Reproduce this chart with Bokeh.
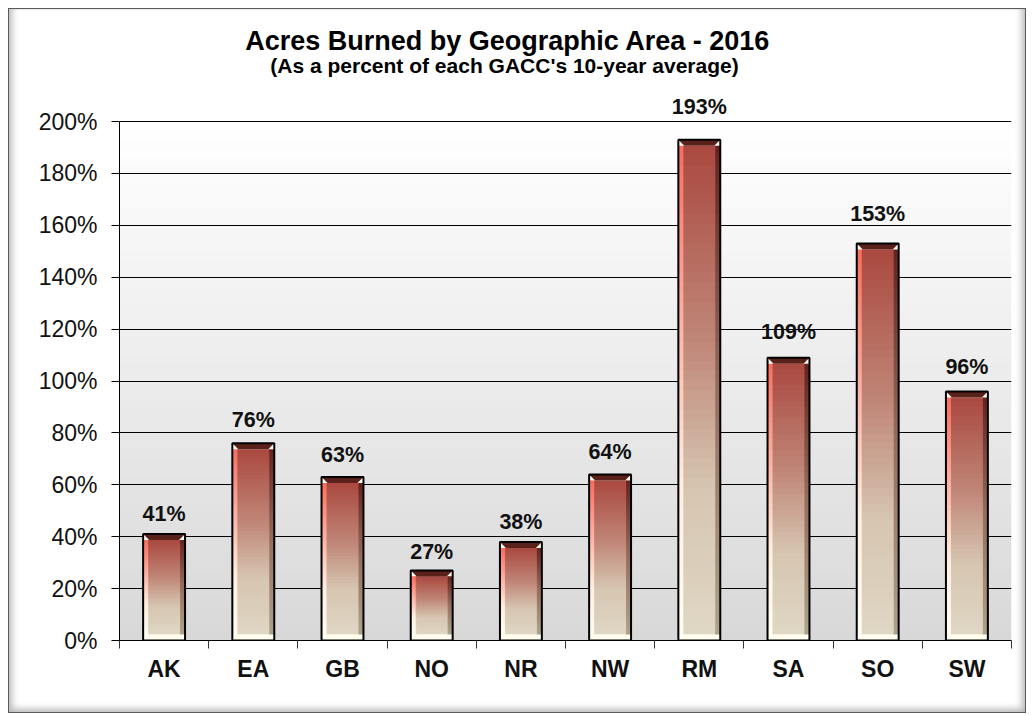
from bokeh.plotting import figure
from bokeh.models import Range1d, FixedTicker, PrintfTickFormatter
from bokeh.core.properties import value
from bokeh.embed import file_html
from bokeh.resources import INLINE

# ---- data ----
categories = ["AK", "EA", "GB", "NO", "NR", "NW", "RM", "SA", "SO", "SW"]
percents = [41, 76, 63, 27, 38, 64, 193, 109, 153, 96]
y_ticks = [0, 20, 40, 60, 80, 100, 120, 140, 160, 180, 200]

title_text = "Acres Burned by Geographic Area  - 2016"
subtitle_text = "(As a percent of each GACC's 10-year average)"

FONT = "Liberation Sans"
W, H = 1018, 705
ML, MR, MT, MB = 111, 15, 6, 73
n = len(categories)
ymax = 200
px_x = (W - ML - MR) / n                 # pixels per category
px_y = 519 / ymax                        # pixels per percent (0%..200% span)
y_end = (H - MT - MB) / px_y             # frame extends above 200% to hold titles

p = figure(width=W, height=H, output_backend="svg", toolbar_location=None,
           x_range=Range1d(0, n), y_range=Range1d(0, y_end),
           min_border_left=ML, min_border_right=MR, min_border_top=MT, min_border_bottom=MB,
           tools="")
p.margin = (8, 0, 0, 8)
p.border_fill_color = None
p.background_fill_color = None
p.outline_line_color = None
p.styles = {
    "background-color": "white",
    "box-shadow": "inset 0 0 0 1px #5a5a5a, inset 9px 0 7px -5px #b8b8b8, inset -9px 0 7px -5px #b8b8b8, inset 0 -9px 7px -5px #b8b8b8, inset 0 2px 2px -1px #c8c8c8",
}

# ---- background gradient inside plot area (0..200%) ----
nb = 60
bg_bottom, bg_top, bg_l, bg_r, bg_c = [], [], [], [], []
for k in range(nb):
    y0 = ymax * k / nb
    y1 = min(ymax * (k + 1) / nb + 0.6, ymax)
    t = (k + 0.5) / nb
    g = int(round(216 + (255 - 216) * t))
    bg_bottom.append(y0); bg_top.append(y1)
    bg_l.append(0); bg_r.append(n)
    bg_c.append("#%02x%02x%02x" % (g, g, g))
p.quad(left=bg_l, right=bg_r, bottom=bg_bottom, top=bg_top, fill_color=bg_c,
       line_color=None, level="image")


def interp(stops, t):
    for i in range(len(stops) - 1):
        t0, c0 = stops[i]
        t1, c1 = stops[i + 1]
        if t0 <= t <= t1:
            f = (t - t0) / (t1 - t0) if t1 > t0 else 0
            c = [int(round(c0[j] + (c1[j] - c0[j]) * f)) for j in range(3)]
            return "#%02x%02x%02x" % tuple(c)
    c = stops[-1][1]
    return "#%02x%02x%02x" % tuple(c)


center_stops = [(0.0, (223, 215, 196)), (0.3, (214, 197, 177)), (0.6, (192, 135, 120)), (1.0, (170, 72, 64))]
left_stops = [(0.0, (255, 253, 240)), (0.3, (255, 240, 225)), (0.6, (255, 185, 170)), (1.0, (252, 108, 92))]
right_stops = [(0.0, (172, 162, 138)), (0.5, (150, 110, 95)), (1.0, (100, 36, 30))]

hw = 0.235
sw = 5.0 / px_x       # side strip width in data units
bh = 6.0 / px_y       # bevel height
bw = 6.0 / px_x       # bevel horizontal inset
ov = 1.2 / px_y       # overlap between slices

centers = [i + 0.5 for i in range(n)]
p.vbar(x=centers, top=percents, bottom=0, width=2 * hw, fill_color="#fffff5", line_color=None)

ns = 50
cl, cr, cb, ct, cc = [], [], [], [], []
for i, v in enumerate(percents):
    c = centers[i]
    L, R = c - hw, c + hw
    y_lo, y_hi = bh, v - bh
    for k in range(ns):
        y0 = y_lo + (y_hi - y_lo) * k / ns
        y1 = min(y_lo + (y_hi - y_lo) * (k + 1) / ns + ov, y_hi)
        t = (k + 0.5) / ns
        cl.append(L); cr.append(L + sw + 0.01); cb.append(y0); ct.append(y1); cc.append(interp(left_stops, t))
        cl.append(L + sw); cr.append(R - sw + 0.01); cb.append(y0); ct.append(y1); cc.append(interp(center_stops, t))
        cl.append(R - sw); cr.append(R); cb.append(y0); ct.append(y1); cc.append(interp(right_stops, t))
p.quad(left=cl, right=cr, bottom=cb, top=ct, fill_color=cc, line_color=None)

# bevels (top dark, bottom light)
tx, ty, bx, by = [], [], [], []
for i, v in enumerate(percents):
    c = centers[i]
    L, R = c - hw, c + hw
    tx.append([L, R, R - bw, L + bw]); ty.append([v, v, v - bh, v - bh])
    bx.append([L, R, R - bw, L + bw]); by.append([0, 0, bh, bh])
p.patches(xs=tx, ys=ty, fill_color="#5a201a", line_color=None)
p.patches(xs=bx, ys=by, fill_color="#fffcee", line_color=None)

# outline
p.vbar(x=centers, top=percents, bottom=0, width=2 * hw, fill_color=None,
       line_color="black", line_width=2)

# value labels (gap above bar grows slightly with bar height, as in the original)
label_offsets = [-(20 + (v - 41) * 0.0855) for v in percents]
p.text(x=centers, y=percents, text=["%d%%" % v for v in percents],
       text_font=value(FONT), text_font_style="bold", text_font_size="21.5px",
       text_align="center", text_baseline="alphabetic", y_offset=label_offsets,
       text_color="#111111")

# titles (inside the extended frame, above 200%)
p.text(x=[(511 - ML - 8) / px_x], y=[(640 - 49) / px_y], text=[title_text],
       text_font=value(FONT), text_font_style="bold", text_font_size="27px",
       text_align="center", text_baseline="alphabetic", y_offset=-9, text_color="black")
p.text(x=[(504 - ML - 8) / px_x], y=[(640 - 73) / px_y], text=[subtitle_text],
       text_font=value(FONT), text_font_style="bold", text_font_size="21px",
       text_align="center", text_baseline="alphabetic", y_offset=-8, text_color="black")

# ---- axes ----
xa = p.xaxis[0]
xa.ticker = FixedTicker(ticks=centers, minor_ticks=list(range(n + 1)))
xa.major_label_overrides = {centers[i]: categories[i] for i in range(n)}
xa.major_tick_out = 0
xa.major_tick_in = 0
xa.minor_tick_out = 8
xa.minor_tick_in = 0
xa.minor_tick_line_color = "#333333"
xa.axis_line_color = "black"
xa.major_label_text_font = FONT
xa.major_label_text_font_style = "bold"
xa.major_label_text_font_size = "23px"
xa.major_label_text_color = "#111111"
xa.major_label_standoff = 7

ya = p.yaxis[0]
ya.ticker = FixedTicker(ticks=y_ticks, minor_ticks=[])
ya.formatter = PrintfTickFormatter(format="%d%%")
ya.bounds = (0, ymax)
ya.major_tick_out = 8
ya.major_tick_in = 0
ya.major_tick_line_color = "black"
ya.axis_line_color = "black"
ya.major_label_text_font = FONT
ya.major_label_text_font_size = "23px"
ya.major_label_text_color = "#111111"
ya.major_label_standoff = 14

p.xgrid.grid_line_color = None
p.ygrid.grid_line_color = "black"
p.ygrid.grid_line_width = 1
p.ygrid.ticker = FixedTicker(ticks=y_ticks)

open("out.html", "w").write(file_html(p, INLINE))
